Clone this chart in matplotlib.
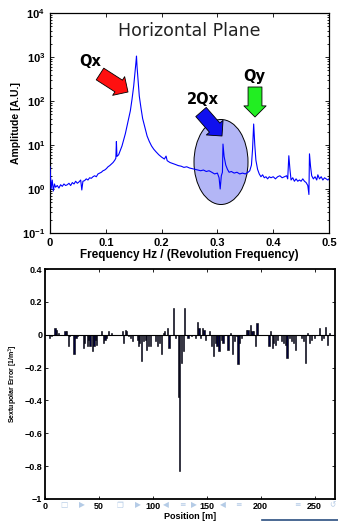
import numpy as np
import matplotlib.pyplot as plt
from matplotlib.patches import Ellipse
from matplotlib.lines import Line2D

# --- spectrum (top panel) ---
freq = [0.000, 0.002, 0.004, 0.006, 0.008, 0.010, 0.013, 0.016, 0.019, 0.022,
        0.025, 0.028, 0.031, 0.034, 0.037, 0.040, 0.043, 0.046, 0.049, 0.052,
        0.055, 0.057, 0.059, 0.062, 0.065, 0.068, 0.071, 0.074, 0.077, 0.080,
        0.083, 0.086, 0.089, 0.092, 0.095, 0.098, 0.101, 0.104, 0.107, 0.110,
        0.113, 0.116, 0.118, 0.119, 0.120, 0.123, 0.126, 0.129, 0.132, 0.135,
        0.138, 0.141, 0.144, 0.147, 0.150, 0.152, 0.154, 0.155, 0.156, 0.158,
        0.160, 0.163, 0.166, 0.170, 0.174, 0.178, 0.182, 0.186, 0.190, 0.195,
        0.200, 0.205, 0.208, 0.210, 0.215, 0.220, 0.225, 0.230, 0.235, 0.240,
        0.245, 0.250, 0.255, 0.260, 0.265, 0.270, 0.275, 0.280, 0.285, 0.290,
        0.295, 0.300, 0.303, 0.305, 0.307, 0.309, 0.310, 0.312, 0.315, 0.318,
        0.321, 0.325, 0.330, 0.335, 0.340, 0.345, 0.350, 0.355, 0.358, 0.361,
        0.363, 0.365, 0.367, 0.369, 0.372, 0.375, 0.378, 0.381, 0.384, 0.387,
        0.390, 0.393, 0.396, 0.400, 0.404, 0.408, 0.412, 0.416, 0.420, 0.424,
        0.426, 0.428, 0.430, 0.432, 0.435, 0.438, 0.441, 0.444, 0.447, 0.450,
        0.453, 0.456, 0.459, 0.462, 0.464, 0.465, 0.467, 0.469, 0.472, 0.475,
        0.478, 0.480, 0.483, 0.486, 0.489, 0.492, 0.495, 0.498, 0.500]
amp = [3.2, 1.0, 1.6, 0.9, 1.3, 1.1, 1.2, 1.05, 1.25, 1.15,
       1.3, 1.2, 1.25, 1.35, 1.2, 1.4, 1.3, 1.5, 1.35, 1.45,
       1.6, 0.95, 1.5, 1.55, 1.7, 1.6, 1.8, 1.75, 1.9, 2.0,
       1.9, 2.2, 2.3, 2.4, 2.6, 2.7, 2.9, 3.2, 3.4, 3.7,
       4.0, 4.5, 5.0, 12.0, 5.5, 6.0, 7.5, 9.5, 13, 18,
       27, 40, 60, 110, 220, 400, 750, 1050, 600, 280,
       130, 70, 40, 25, 16, 12, 9.5, 8.0, 7.0, 6.0,
       5.3, 4.8, 5.6, 4.4, 4.0, 3.8, 3.6, 3.4, 3.3, 3.1,
       3.2, 3.0, 2.9, 2.8, 2.7, 2.6, 2.7, 2.5, 2.6, 2.4,
       2.2, 2.3, 1.8, 1.0, 2.0, 2.4, 10.5, 5.5, 3.5, 2.8,
       2.4, 2.5, 2.3, 2.4, 2.2, 2.3, 2.2, 2.4, 2.6, 3.5,
       8, 30, 10, 4.5, 2.8, 2.2, 1.9, 2.1, 1.8, 1.9,
       1.7, 1.9, 1.8, 1.9, 1.7, 1.9, 2.0, 1.8, 1.9, 2.0,
       1.7, 5.7, 2.8, 1.6, 1.8, 1.5, 1.7, 1.5, 1.6, 1.5,
       1.7, 1.5, 1.4, 1.2, 0.75, 6.3, 3.2, 2.0, 1.7, 1.9,
       1.6, 2.1, 1.7, 1.9, 1.6, 1.8, 1.7, 1.6, 1.7]

# --- sextupolar error per magnet (bottom panel) ---
pos = [4.0, 6.2, 9.3, 10.8, 12.3, 18.5, 20.1, 21.6, 23.1, 26.9, 28.7, 29.9,
       35.5, 37.0, 39.2, 40.4, 41.7, 43.8, 45.4, 46.6, 47.8, 52.5, 54.0, 55.6,
       57.1, 58.6, 61.7, 71.9, 73.1, 74.4, 75.9, 77.5, 79.3, 80.9, 85.5, 87.0,
       88.0, 89.5, 91.0, 92.9, 94.1, 96.0, 97.8, 102.2, 104.0, 105.9, 108.0,
       109.6, 111.1, 113.6, 115.1, 119.4, 121.3, 123.5, 125.0, 126.5, 128.1,
       129.6, 132.7, 135.8, 139.8, 141.4, 142.9, 144.4, 146.0, 147.5, 149.1,
       152.8, 154.3, 156.5, 158.0, 159.6, 161.4, 163.6, 165.1, 169.8, 171.9,
       173.8, 175.6, 177.5, 179.0, 180.6, 182.1, 186.7, 188.3, 190.4, 192.0,
       193.5, 195.4, 196.6, 207.7, 209.3, 210.8, 212.0, 213.9, 215.4, 219.4,
       221.0, 222.8, 224.4, 226.9, 228.4, 230.6, 232.7, 237.7, 239.8, 241.7,
       243.8, 245.4, 246.9, 250.0, 254.6, 256.2, 258.3, 260.2, 262.0, 263.9]
err = [-0.02, -0.01, 0.04, 0.03, 0.01, 0.02, 0.02, -0.07, -0.005, -0.12, -0.02, -0.01,
       -0.08, -0.05, -0.07, -0.03, -0.07, -0.10, -0.07, -0.03, -0.06, 0.02, -0.05, -0.03,
       -0.02, 0.02, 0.01, 0.02, -0.05, 0.03, 0.02, -0.01, -0.02, -0.04, -0.03, -0.07,
       -0.05, -0.16, -0.04, -0.03, -0.09, -0.07, -0.07, -0.04, -0.07, -0.05, -0.12,
       0.01, 0.02, 0.04, -0.08, 0.16, -0.02, -0.38, -0.83, -0.17, -0.10,
       0.16, -0.02, -0.005, -0.02, 0.08, 0.04, -0.02, 0.04, 0.03, -0.03,
       0.02, -0.07, -0.13, -0.05, -0.07, -0.10, -0.03, -0.05, -0.09, 0.01,
       -0.12, -0.04, -0.01, -0.18, -0.05, -0.02, 0.03, 0.03, 0.06, 0.02,
       0.02, -0.07, 0.07, -0.07, 0.02, -0.08, -0.05, -0.06, -0.03, -0.04,
       -0.05, -0.06, -0.14, -0.02, -0.04, -0.05, -0.09, -0.02, -0.04, -0.17,
       0.01, -0.05, -0.03, -0.02, 0.04, -0.03, -0.02, 0.05, -0.06, 0.01]

xticks_top = [0, 0.1, 0.2, 0.3, 0.4, 0.5]
xtick_labels_top = ['0', '0.1', '0.2', '0.3', '0.4', '0.5']
xticks_bot = [0, 50, 100, 150, 200, 250]
yticks_bot = [-1, -0.8, -0.6, -0.4, -0.2, 0, 0.2, 0.4]
ytick_labels_bot = ['\u22121', '\u22120.8', '\u22120.6', '\u22120.4', '\u22120.2', '0', '0.2', '0.4']

mat = ['Liberation Sans', 'DejaVu Sans']

fig = plt.figure(figsize=(3.38, 5.21), dpi=100)

# ---------------- top: spectrum ----------------
ax1 = fig.add_axes([50/338, 1-233/521, 279/338, 220/521])
ax1.semilogy(freq, amp, color='#0000ff', lw=0.8, zorder=3)
ax1.set_xlim(0, 0.5)
ax1.set_ylim(1e-1, 1e4)
ax1.set_xticks(xticks_top)
ax1.set_xticklabels(xtick_labels_top)
ax1.tick_params(which='both', direction='in', top=True, right=True, width=0.6)
ax1.tick_params(which='major', length=3)
ax1.tick_params(which='minor', length=1.5)
for lab in ax1.get_xticklabels() + ax1.get_yticklabels():
    lab.set_family(mat)
    lab.set_fontweight('bold')
    lab.set_fontsize(8)
ax1.set_xlabel('Frequency Hz / (Revolution Frequency)', family=mat, fontsize=8.5,
               fontweight='bold', labelpad=1)
ax1.set_ylabel('Amplitude [A.U.]', family=mat, fontsize=7.5, fontweight='bold', labelpad=1)
for s in ax1.spines.values():
    s.set_linewidth(0.9)

ax1.text(0.5, 0.92, 'Horizontal Plane', transform=ax1.transAxes, ha='center',
         va='center', fontsize=12.5, color='#222222')

ell = Ellipse((221/338, 1-162/521), 54/338, 85/521, transform=fig.transFigure,
              facecolor='#b3b6f6', edgecolor='black', lw=0.7, zorder=2)
ax1.add_patch(ell)

# block arrows drawn in figure pixel coordinates
def block_arrow(x0, y0, x1, y1, color, hw, tw):
    ax1.annotate('', xy=(x1/338, 1-y1/521), xytext=(x0/338, 1-y0/521),
                 xycoords='figure fraction', textcoords='figure fraction',
                 arrowprops=dict(arrowstyle='simple,head_width=%g,head_length=0.8,tail_width=%g' % (hw, tw),
                                 fc=color, ec='black', lw=0.6, shrinkA=0, shrinkB=0),
                 zorder=4)

block_arrow(100, 74, 128, 92, '#ff1010', 1.6, 1.0)
block_arrow(255, 87, 255, 117, '#22ee22', 1.6, 1.0)
block_arrow(201, 112, 222, 136, '#1010ee', 1.6, 1.0)

fig.text(90/338, 1-62/521, 'Qx', fontsize=10.5, fontweight='bold', ha='center', va='center')
fig.text(203/338, 1-100/521, '2Qx', fontsize=10.5, fontweight='bold', ha='center', va='center')
fig.text(254/338, 1-76/521, 'Qy', fontsize=10.5, fontweight='bold', ha='center', va='center')

# ---------------- bottom: sextupolar errors ----------------
ax2 = fig.add_axes([45/338, 1-499/521, 290/338, 230/521])
ax2.bar(pos, err, width=1.1, color='#00003a', edgecolor='black', lw=0.4, zorder=2)
ax2.axhline(0, color='black', lw=0.8, zorder=3)
ax2.set_xlim(0, 269)
ax2.set_ylim(-1, 0.4)
ax2.set_xticks(xticks_bot)
ax2.set_yticks(yticks_bot)
ax2.set_yticklabels(ytick_labels_bot)
ax2.tick_params(direction='in', top=True, right=True, length=2.5, width=0.6, pad=2)
for lab in ax2.get_xticklabels() + ax2.get_yticklabels():
    lab.set_family(mat)
    lab.set_fontweight('bold')
    lab.set_fontsize(6.5)
ax2.set_xlabel('Position [m]', family=mat, fontsize=6.5, fontweight='bold', labelpad=1)
ax2.set_ylabel('Sextupolar Error [1/m$^3$]', family=mat, fontsize=5, fontweight='bold', labelpad=3)
for s in ax2.spines.values():
    s.set_linewidth(1.3)

# faint beamer navigation symbols
nav = [(64, '\u25a1'), (82, '\u25b6'), (120, '\u2750'), (138, '\u25b6'), (166, '\u25c0'),
       (182, '\u2261'), (194, '\u25b6'), (223, '\u25c0'), (238, '\u2261'), (297, '\u2261'),
       (332, '\u21ba')]
for nx, sym in nav:
    fig.text(nx/338, 1-505/521, sym, fontsize=5.5, color='#b4cbe6', ha='center', va='center',
             family=['DejaVu Sans'])
fig.add_artist(Line2D([262/338, 1.0], [1-520/521, 1-520/521], transform=fig.transFigure,
                      color='#2b4f80', lw=1.2))

fig.savefig('out.png', dpi=100)
